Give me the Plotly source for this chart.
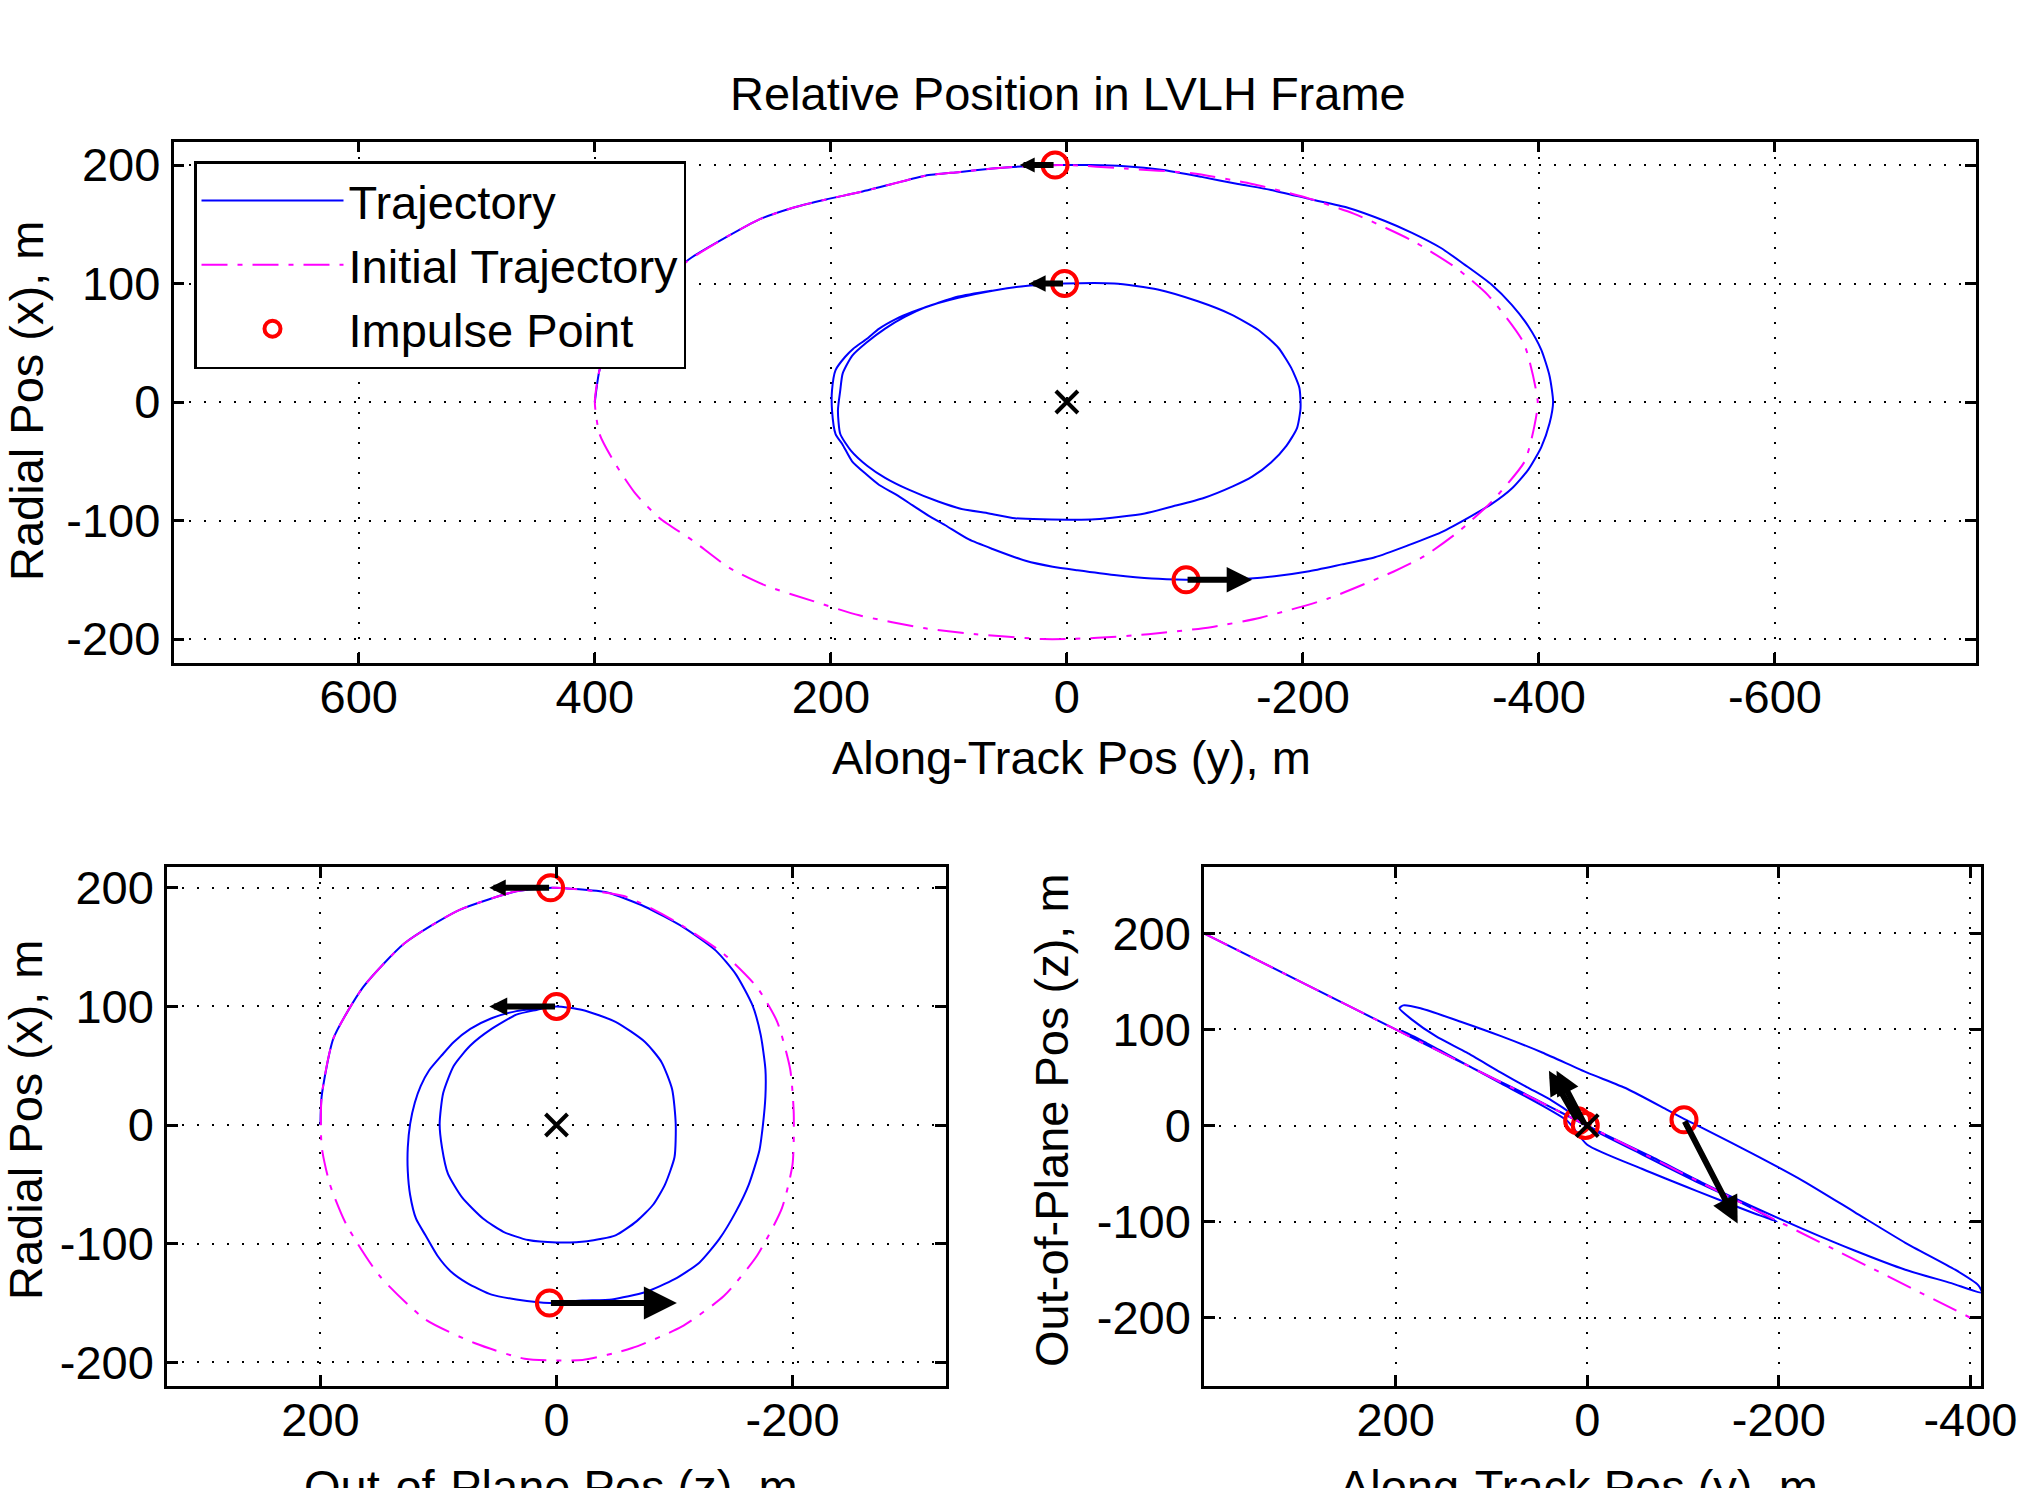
import plotly.graph_objects as go

# ---------------- data ----------------
# Top view: along-track y (horizontal) vs radial x (vertical)
init_top_y = [400, 396, 387, 371, 346, 317, 289, 261, 232, 204, 176, 148, 120, 92, 63, 35, 0,
              -49, -106, -157, -201, -243, -293, -330, -357, -387, -399,
              -396, -388, -360, -331, -303, -277, -221, -164, -122, -69, -26, 0,
              21, 77, 120, 176, 215, 255, 286, 317, 345, 365, 384, 396, 400]
init_top_x = [0, 27, 50, 75, 100, 122, 139, 154, 164, 171, 177, 184, 191, 194, 197, 199, 200,
              197, 193, 184, 173, 159, 136, 113, 90, 50, 0,
              -21, -50, -84, -110, -130, -143, -166, -182, -190, -196, -199, -200,
              -200, -196, -191, -180, -168, -155, -140, -117, -98, -78, -50, -27, 0]

traj_top_y = [400, 396, 387, 371, 346, 318, 289, 261, 232, 204, 176, 148, 120, 92, 63, 35, 8,
              -20, -49, -80, -114, -145, -173, -207, -238, -269, -292, -317, -337, -360, -377, -391,
              -402, -409, -412, -409, -402, -391, -377, -360, -343, -317, -289, -261, -233, -204,
              -176, -139, -101,
              -72, -40, -9, 12, 35, 63, 83, 103, 117, 131, 145, 159, 170, 182, 190, 196, 199, 199,
              196, 188, 181, 170, 159, 145, 131, 111, 92, 63, 35, 2,
              -40, -77, -111, -139, -162, -179, -190, -197, -198, -195, -186, -173, -157, -141, -116,
              -90, -66, -24, 21, 44, 66, 90, 109, 134, 154, 169, 183, 192, 194, 192, 190, 182, 170,
              154, 137, 120, 92, 63, 35, 5]
traj_top_x = [0, 27, 50, 75, 100, 122, 139, 154, 164, 171, 177, 184, 191, 194, 197, 199, 200,
              200, 199, 196, 190, 184, 179, 171, 164, 153, 143, 130, 116, 99, 82, 64,
              44, 22, 0, -18, -38, -57, -73, -86, -96, -110, -121, -131, -137, -143,
              -147, -150, -150,
              -149, -146, -142, -139, -134, -124, -116, -104, -96, -87, -78, -70, -61, -50, -36, -27, -7,
              10, 27, 38, 45, 53, 62, 70, 76, 83, 89, 94, 98, 100,
              100, 95, 85, 74, 61, 46, 29, 12, -5, -22, -37, -51, -63, -71, -81,
              -88, -94, -99, -99, -98, -94, -90, -84, -74, -64, -54, -41, -27, -7, 10, 24, 39, 50,
              62, 72, 80, 88, 94, 98, 100]

# Bottom-left view: out-of-plane z (horizontal) vs radial x (vertical)
init_xz_z = [0, 34, 83, 129, 164, 189, 199, 199, 192, 178, 150, 111, 69, 27, -22, -64, -106,
             -142, -170, -191, -200, -201, -198, -187, -170, -142, -100, -57, 0]
init_xz_x = [200, 197, 181, 153, 116, 73, 24, -18, -50, -84, -127, -164, -184, -197, -198, -188,
             -170, -144, -110, -70, -33, 10, 47, 87, 116, 144, 172, 193, 200]

traj_xz_z = [200, 199, 189, 164, 129, 83, 34, 4,
             -15, -43, -75, -107, -135, -152, -166, -173, -177, -177, -175, -172, -163, -152, -138,
             -121, -100, -75, -47, -22, 6,
             34, 55, 76, 90, 101, 111, 119, 124, 126, 126, 124, 120, 115, 108, 97, 87, 73, 55, 34, 17, 0,
             -22, -50, -75, -89, -98, -101, -100, -92, -82, -68, -50, -26, 0, 24, 45, 62, 80, 92, 97,
             99, 96, 87, 73, 55, 34, 17, 2]
traj_xz_x = [0, 24, 73, 116, 153, 181, 197, 200,
             199, 196, 184, 167, 147, 127, 101, 76, 47, 24, 1, -21, -50, -73, -96,
             -116, -130, -141, -147, -148, -150,
             -147, -143, -133, -123, -110, -93, -79, -59, -39, -19, 1, 19, 33, 46, 59, 70, 81, 90, 96, 98, 100,
             97, 87, 70, 53, 30, 1, -27, -50, -67, -81, -93, -98, -99, -97, -90, -79, -61, -41, -19,
             1, 27, 50, 67, 81, 93, 97, 100]

# Bottom-right view: along-track y (horizontal) vs out-of-plane z (vertical)
init_yz_y = [400, 0, -400]
init_yz_z = [200, 0, -200]

traj_yz_y = [400, 300, 200, 100, 10,
             -20, -68, -121, -174, -226, -279, -332, -380, -412,
             -408, -384, -332, -279, -226, -174, -121, -101,
             -84, -42, 0, 47, 90, 132, 174, 192, 196, 184, 158, 126, 90, 63, 37, 16, 2,
             -57, -111, -160, -198, -176, -114, -57, 0, 21, 92, 154, 194, 170, 120, 63, 5]
traj_yz_z = [200, 150, 100, 50, 5,
             -10, -33, -60, -85, -108, -130, -150, -164, -174,
             -166, -150, -122, -90, -58, -30, -3, 7,
             16, 38, 55, 76, 93, 108, 122, 125, 122, 111, 93, 76, 55, 40, 26, 12, 0,
             -30, -57, -80, -100, -92, -68, -45, -20, 5, 45, 78, 99, 87, 60, 32, 2]

# Impulse points (3D) and delta-V arrow tips (3D)
imp_y = [10, 2, -101]
imp_x = [200, 100, -150]
imp_z = [5, 0, 6]
tip_y = [40, 32, -157]
tip_x = [200, 100, -150]
tip_z = [57, 57, -102]

# Axis ticks
top_xticks = [600, 400, 200, 0, -200, -400, -600]
xz_xticks = [200, 0, -200]
yz_xticks = [200, 0, -200, -400]
y_ticks = [-200, -100, 0, 100, 200]


def lab(vals):
    return [str(v) for v in vals]


FONT = "Liberation Sans, Arial, sans-serif"
FS = 47
BLUE = "#0000FF"
MAG = "#FF00FF"
RED = "#FF0000"

W, H = 2030, 1488
MR = 40            # fixed right margin (absorbs any tick-label margin push)
WP = W - MR        # plotting width in px

# arrow head sizes per view (short arrows get small heads, as in the reference)
head_sizes = {"x": [0.5, 0.55, 0.85], "x2": [0.55, 0.6, 1.1], "x3": [0.8, 0.8, 0.9]}

fig = go.Figure()

views = [
    ("x", "y", traj_top_y, traj_top_x, init_top_y, init_top_x, imp_y, imp_x, tip_y, tip_x, True),
    ("x2", "y2", traj_xz_z, traj_xz_x, init_xz_z, init_xz_x, imp_z, imp_x, tip_z, tip_x, False),
    ("x3", "y3", traj_yz_y, traj_yz_z, init_yz_y, init_yz_z, imp_y, imp_z, tip_y, tip_z, False),
]

annotations = []
for xa, ya, th, tv, ih, iv, ph, pv, qh, qv, leg in views:
    fig.add_trace(go.Scatter(x=th, y=tv, xaxis=xa, yaxis=ya, mode="lines",
                             line=dict(color=BLUE, width=2, shape="spline", smoothing=0.6),
                             name="Trajectory", showlegend=leg))
    fig.add_trace(go.Scatter(x=ih, y=iv, xaxis=xa, yaxis=ya, mode="lines",
                             line=dict(color=MAG, width=2, dash="26px,10px,5px,10px",
                                       shape="spline", smoothing=0.6),
                             name="Initial Trajectory", showlegend=leg))
    fig.add_trace(go.Scatter(x=ph, y=pv, xaxis=xa, yaxis=ya, mode="markers",
                             marker=dict(symbol="circle-open", size=25, color=RED,
                                         line=dict(width=4, color=RED)),
                             name="Impulse Point", showlegend=leg))
    fig.add_trace(go.Scatter(x=[0], y=[0], xaxis=xa, yaxis=ya, mode="markers",
                             marker=dict(symbol="x-thin-open", size=22, color="black",
                                         line=dict(width=4, color="black")),
                             showlegend=False, hoverinfo="skip"))
    for i in range(len(ph)):
        annotations.append(dict(x=qh[i], y=qv[i], ax=ph[i], ay=pv[i], xref=xa, yref=ya,
                                axref=xa, ayref=ya, text="", showarrow=True,
                                arrowhead=2, arrowsize=head_sizes[xa][i], arrowwidth=6,
                                arrowcolor="black", standoff=0, startstandoff=0))


def px_x(px):
    return px / WP


def px_y(py):
    return 1 - py / H


axis_common = dict(showline=True, linecolor="black", linewidth=2.5, mirror="allticks",
                   ticks="inside", ticklen=11, tickwidth=2.5, tickcolor="black",
                   showgrid=True, gridcolor="black", gridwidth=2, griddash="2px,13px",
                   zeroline=False, tickfont=dict(family=FONT, size=FS, color="black"),
                   fixedrange=True, automargin=False)

layout_axes = dict(
    xaxis=dict(axis_common, domain=[px_x(173.5), px_x(1975.6)], range=[757, -770],
               tickvals=top_xticks, ticktext=lab(top_xticks), anchor="y", ticklabelstandoff=-9),
    yaxis=dict(axis_common, domain=[px_y(663.3), px_y(141.7)], range=[-220.5, 219.7],
               tickvals=y_ticks, ticktext=lab(y_ticks), anchor="x", ticklabelstandoff=1),
    xaxis2=dict(axis_common, domain=[px_x(167), px_x(946)], range=[330, -330],
                tickvals=xz_xticks, ticktext=lab(xz_xticks), anchor="y2", ticklabelstandoff=-9),
    yaxis2=dict(axis_common, domain=[px_y(1386), px_y(867)], range=[-220, 217.5],
                tickvals=y_ticks, ticktext=lab(y_ticks), anchor="x2", ticklabelstandoff=1),
    xaxis3=dict(axis_common, domain=[px_x(1204), px_x(1981)], range=[400, -411],
                tickvals=yz_xticks, ticktext=lab(yz_xticks), anchor="y3", ticklabelstandoff=-9,
                ticklabeloverflow="allow"),
    yaxis3=dict(axis_common, domain=[px_y(1386), px_y(867)], range=[-271, 269],
                tickvals=y_ticks, ticktext=lab(y_ticks), anchor="x3", ticklabelstandoff=1),
)

text_font = dict(family=FONT, size=FS, color="black")
labels = [
    ("Relative Position in LVLH Frame", 1068, 93, 0),
    ("Along-Track Pos (y), m", 1071, 757, 0),
    ("Radial Pos (x), m", 26, 401, -90),
    ("Radial Pos (x), m", 25, 1120, -90),
    ("Out-of-Plane Pos (z), m", 551, 1486, 0),
    ("Out-of-Plane Pos (z), m", 1051, 1120, -90),
    ("Along-Track Pos (y), m", 1578, 1486, 0),
]
for txt, lx, ly, ang in labels:
    annotations.append(dict(text=txt, x=px_x(lx), y=px_y(ly), xref="paper", yref="paper",
                            xanchor="center", yanchor="middle", showarrow=False,
                            textangle=ang, font=text_font))

fig.update_layout(
    width=W, height=H, autosize=False, margin=dict(l=0, r=MR, t=0, b=0, pad=0),
    paper_bgcolor="white", plot_bgcolor="white",
    showlegend=True,
    legend=dict(x=px_x(194), y=px_y(161), xanchor="left", yanchor="top",
                bgcolor="white", bordercolor="black", borderwidth=2.5,
                font=dict(family=FONT, size=FS, color="black"),
                itemwidth=142, tracegroupgap=0),
    annotations=annotations,
    **layout_axes,
)

fig.write_html("out.html", config={"responsive": False})
